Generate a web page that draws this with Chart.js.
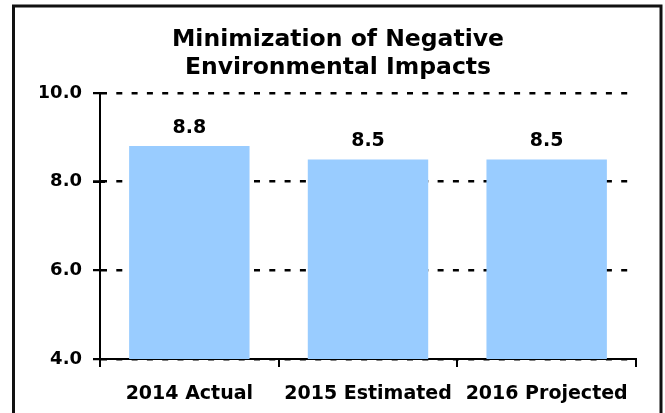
<!DOCTYPE html>
<html>
<head>
<meta charset="utf-8">
<script src="https://cdn.jsdelivr.net/npm/chart.js@4"></script>
<style>
html,body{margin:0;padding:0;background:#fff;}
#wrap{width:665px;height:413px;position:relative;}
</style>
</head>
<body>
<div id="wrap"><canvas id="c" width="665" height="413"></canvas></div>
<script>
const categories = ["2014 Actual", "2015 Estimated", "2016 Projected"];
const values = [8.8, 8.5, 8.5];
const yTicks = [4.0, 6.0, 8.0, 10.0];
const titleLines = ["Minimization of Negative", "Environmental Impacts"];

const FONT = "'DejaVu Sans', 'Liberation Sans', Arial, sans-serif";

const frame = {
  id: 'frame',
  beforeDraw(chart) {
    const ctx = chart.ctx;
    ctx.save();
    ctx.fillStyle = '#fff';
    ctx.fillRect(0, 0, chart.width, chart.height);
    ctx.restore();
  },
  afterDraw(chart) {
    const ctx = chart.ctx;
    const ys = chart.scales.y;
    const left = chart.chartArea.left;
    ctx.save();
    // tick marks crossing the value axis
    ctx.strokeStyle = '#000';
    ctx.lineWidth = 2;
    ctx.beginPath();
    yTicks.forEach(v => {
      const y = Math.round(ys.getPixelForValue(v));
      ctx.moveTo(left - 7, y);
      ctx.lineTo(left + 5, y);
    });
    ctx.stroke();
    // outer frame
    ctx.strokeStyle = '#111';
    ctx.lineWidth = 3;
    ctx.strokeRect(13.5, 6, 647.5, 600);
    ctx.restore();
  }
};

const valueLabels = {
  id: 'valueLabels',
  afterDatasetsDraw(chart) {
    const ctx = chart.ctx;
    const meta = chart.getDatasetMeta(0);
    ctx.save();
    ctx.font = "bold 19px " + FONT;
    ctx.fillStyle = '#000';
    ctx.textAlign = 'center';
    ctx.textBaseline = 'middle';
    meta.data.forEach((bar, i) => {
      ctx.fillText(values[i].toFixed(1), bar.x, bar.y - 18);
    });
    ctx.restore();
  }
};

new Chart(document.getElementById('c'), {
  type: 'bar',
  data: {
    labels: categories,
    datasets: [{
      data: values,
      backgroundColor: '#99CCFF',
      borderWidth: 0,
      categoryPercentage: 1.0,
      barPercentage: 0.674
    }]
  },
  options: {
    responsive: false,
    animation: false,
    devicePixelRatio: 1,
    layout: { padding: { left: 40, right: 29, top: 0, bottom: 0 } },
    plugins: {
      legend: { display: false },
      tooltip: { enabled: false },
      title: {
        display: true,
        text: titleLines,
        color: '#000',
        font: { family: FONT, size: 23.5, weight: 'bold', lineHeight: 1.2 },
        padding: { top: 25.5, bottom: 11 }
      }
    },
    scales: {
      x: {
        afterFit(s) { s.height = 54; },
        grid: {
          display: true,
          drawOnChartArea: false,
          offset: true,
          color: '#000',
          lineWidth: 2,
          tickLength: 8
        },
        border: { display: true, color: '#000', width: 2 },
        ticks: {
          color: '#000',
          padding: 16,
          font: { family: FONT, size: 19, weight: 'bold' }
        }
      },
      y: {
        min: 4,
        max: 10,
        afterFit(s) { s.width = 60; },
        afterBuildTicks(s) { s.ticks = yTicks.map(v => ({ value: v })); },
        grid: {
          color: '#000',
          lineWidth: 2.5,
          tickLength: 7,
          tickWidth: 2,
          tickBorderDash: []
        },
        border: { display: true, color: '#000', width: 2, dash: [6, 9.3], dashOffset: 0 },
        ticks: {
          color: '#000',
          padding: 11,
          font: { family: FONT, size: 18, weight: 'bold' },
          callback: v => Number(v).toFixed(1)
        }
      }
    }
  },
  plugins: [frame, valueLabels]
});
</script>
</body>
</html>
